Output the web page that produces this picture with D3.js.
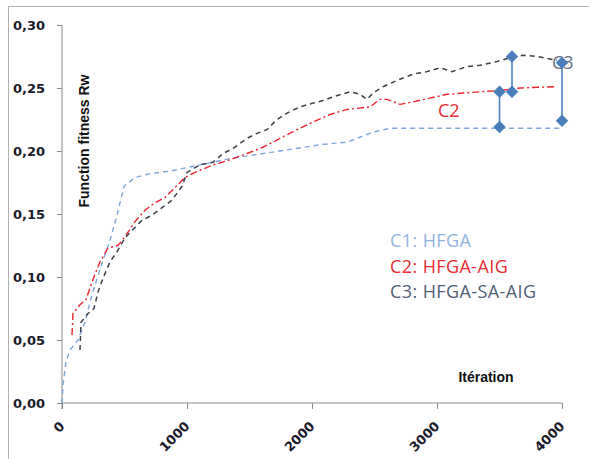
<!DOCTYPE html>
<html lang="fr">
<head>
<meta charset="UTF-8">
<title>Function fitness</title>
<script src="https://d3js.org/d3.v7.min.js"></script>
<style>
    body { margin: 0; background: #fff; }
    .tick text { font-family: "DejaVu Sans", sans-serif; font-weight: bold; font-size: 13px; fill: #1a1a2a; }
    .domain, .tick line { stroke: #8a8a8a; }
</style>
</head>
<body>
<svg width="589" height="459"></svg>
<script>
// Iteration / fitness pairs
const c1 = [[0,0],[8,0.014],[32,0.033],[64,0.042],[128,0.05],[184,0.064],[240,0.086],[304,0.106],
    [384,0.129],[440,0.149],[496,0.172],[584,0.179],[704,0.182],[864,0.184],[1008,0.187],
    [1344,0.194],[1744,0.2],[2064,0.205],[2280,0.207],[2488,0.215],[2624,0.218],[4000,0.218]];

const c2 = [[80,0.054],[88,0.071],[144,0.078],[192,0.082],[240,0.096],[304,0.112],[368,0.123],
    [448,0.125],[504,0.132],[584,0.144],[664,0.153],[744,0.159],[824,0.163],[904,0.171],
    [984,0.179],[1064,0.183],[1208,0.189],[1344,0.193],[1480,0.198],[1608,0.203],[1744,0.21],
    [1880,0.217],[2008,0.223],[2144,0.229],[2280,0.233],[2464,0.235],[2544,0.241],[2600,0.241],
    [2704,0.237],[2808,0.239],[2944,0.242],[3080,0.245],[3208,0.246],[3344,0.247],[3504,0.248],
    [3664,0.25],[3944,0.251]];

const c3 = [[144,0.042],[152,0.064],[208,0.071],[256,0.075],[288,0.088],[328,0.099],[384,0.112],
    [440,0.12],[504,0.131],[560,0.137],[640,0.145],[720,0.149],[800,0.155],[880,0.161],
    [960,0.172],[1000,0.183],[1104,0.189],[1208,0.191],[1288,0.198],[1368,0.202],[1480,0.21],
    [1560,0.214],[1640,0.217],[1720,0.225],[1800,0.23],[1904,0.235],[2008,0.238],[2088,0.24],
    [2168,0.243],[2304,0.247],[2384,0.245],[2440,0.241],[2488,0.246],[2568,0.251],[2680,0.256],
    [2808,0.261],[2920,0.263],[3024,0.266],[3120,0.263],[3240,0.267],[3344,0.268],[3480,0.271],
    [3584,0.274],[3688,0.276],[3800,0.275],[3960,0.272]];

// gap markers
const markerIter = [3500, 3600, 4000];
const markerLow = [0.219, 0.247, 0.224];
const markerHigh = [0.247, 0.275, 0.270];

const xTicks = [0, 1000, 2000, 3000, 4000];
const yTicks = [0, 0.05, 0.10, 0.15, 0.20, 0.25, 0.30];

const legendItems = ["C1: HFGA", "C2: HFGA-AIG", "C3: HFGA-SA-AIG"];
const colors = ["#8fb3df", "#ee2a33", "#4f6075"];

const svg = d3.select("svg");

// chart area frame
svg.append("rect")
    .attr("x", 8.5).attr("y", 6.5)
    .attr("width", 600).attr("height", 480)
    .attr("fill", "none").attr("stroke", "#b0b0b0");

const x = d3.scaleLinear().domain([0, 4000]).range([62, 562]);
const y = d3.scaleLinear().domain([0, 0.30]).range([403, 25]);

// axes
svg.append("g")
    .attr("transform", "translate(0,403)")
    .call(d3.axisBottom(x).tickValues(xTicks).tickSize(6).tickFormat(d3.format("d")))
    .call(g => g.select(".domain").attr("d", "M62,0H562"))
    .selectAll("text")
    .attr("text-anchor", "end")
    .attr("x", 0).attr("y", 0).attr("dy", 0)
    .attr("transform", "translate(3,24) rotate(-45)");

svg.append("g")
    .attr("transform", "translate(62,0)")
    .call(d3.axisLeft(y).tickValues(yTicks).tickSize(5)
        .tickFormat(d => d3.format(".2f")(d).replace(".", ",")))
    .call(g => g.select(".domain").attr("d", "M0,25V409"))
    .selectAll("text").attr("x", -17);

// series
const line = d3.line().x(d => x(d[0])).y(d => y(d[1])).curve(d3.curveLinear);

svg.append("path").datum(c1)
    .attr("d", line).attr("fill", "none")
    .attr("stroke", "#7ea6d8").attr("stroke-width", 1.4)
    .attr("stroke-dasharray", "5,4");

svg.append("path").datum(c2)
    .attr("d", line).attr("fill", "none")
    .attr("stroke", "#f0222c").attr("stroke-width", 1.4)
    .attr("stroke-dasharray", "7,3,2,3");

svg.append("path").datum(c3)
    .attr("d", line).attr("fill", "none")
    .attr("stroke", "#3a3f4c").attr("stroke-width", 1.5)
    .attr("stroke-dasharray", "5,4");

// curve labels (drawn under the markers)
svg.append("text").attr("x", 438).attr("y", 117)
    .attr("font-family", "'Open Sans', sans-serif").attr("font-size", 18)
    .attr("fill", "#ee2a33").text("C2");

svg.append("text").attr("x", 552).attr("y", 69)
    .attr("font-family", "'Open Sans', sans-serif").attr("font-size", 18)
    .attr("fill", "#4f6075").attr("fill-opacity", 0.9).text("C3");

// gap bars with diamonds
const gaps = markerIter.map((it, i) => ({ it, lo: markerLow[i], hi: markerHigh[i] }));

svg.append("g").selectAll("line")
    .data(gaps).enter().append("line")
    .attr("x1", d => x(d.it)).attr("x2", d => x(d.it))
    .attr("y1", d => y(d.lo)).attr("y2", d => y(d.hi))
    .attr("stroke", "#4f81bd").attr("stroke-width", 1.6);

const diamond = d3.symbol().type(d3.symbolDiamond2).size(100);
svg.append("g").selectAll("path")
    .data(gaps.flatMap(d => [[d.it, d.lo], [d.it, d.hi]]))
    .enter().append("path")
    .attr("d", diamond)
    .attr("transform", d => `translate(${x(d[0])},${y(d[1])})`)
    .attr("fill", "#4a7ebb");

// legend
svg.append("g").selectAll("text")
    .data(legendItems).enter().append("text")
    .attr("x", 390).attr("y", (d, i) => 247 + i * 25.5)
    .attr("font-family", "'Open Sans', sans-serif").attr("font-size", 18)
    .attr("letter-spacing", 0.4)
    .attr("fill", (d, i) => colors[i])
    .text(d => d);

// axis titles
svg.append("text")
    .attr("transform", "translate(89,141) rotate(-90)")
    .attr("text-anchor", "middle")
    .attr("font-family", "'Liberation Sans', Arial, sans-serif")
    .attr("font-weight", "bold").attr("font-size", 14)
    .attr("fill", "#111").text("Function fitness Rw");

svg.append("text")
    .attr("x", 486).attr("y", 382)
    .attr("text-anchor", "middle")
    .attr("font-family", "'Liberation Sans', Arial, sans-serif")
    .attr("font-weight", "bold").attr("font-size", 14)
    .attr("fill", "#111").text("Itération");
</script>
</body>
</html>
